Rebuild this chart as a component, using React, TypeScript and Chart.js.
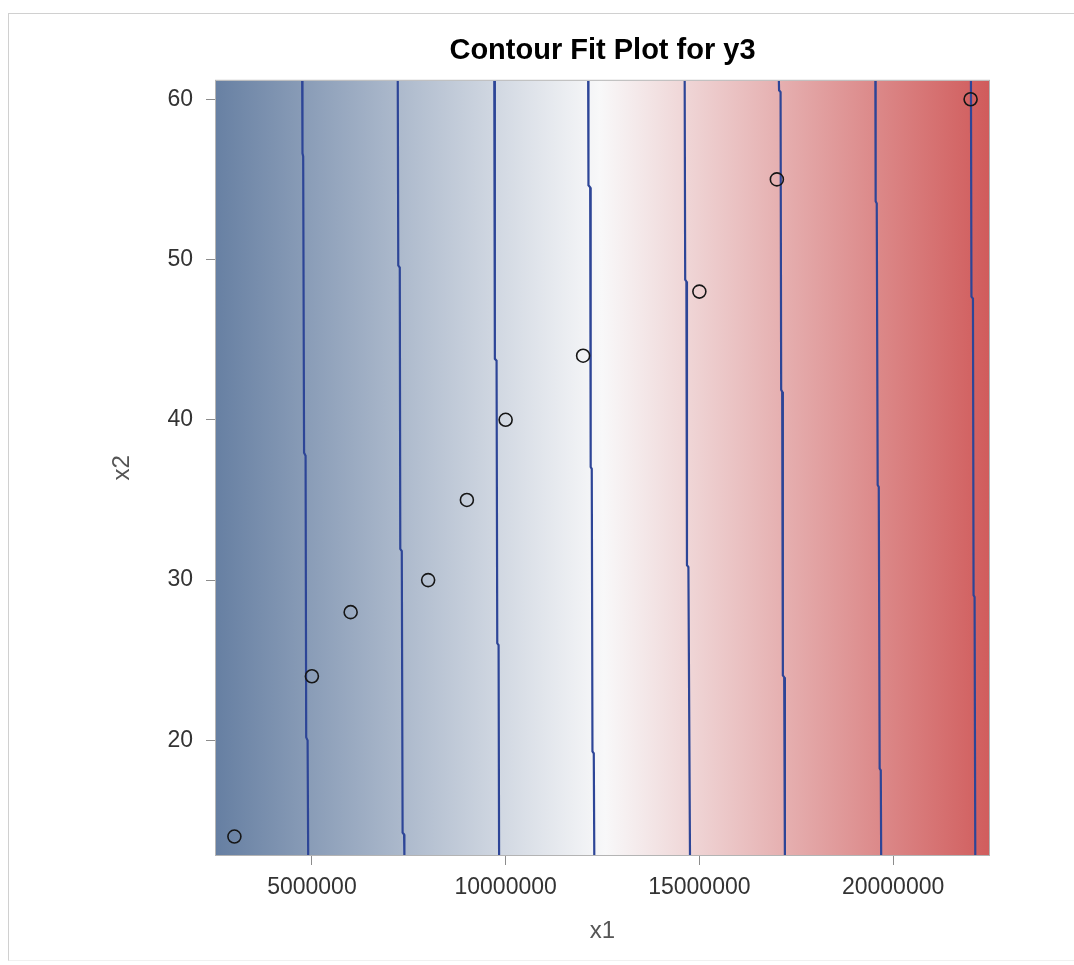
import React, { useEffect, useRef } from 'react';
import { Chart, registerables } from 'chart.js';

Chart.register(...registerables);

// Axis ranges and tick positions
const x1Range = [2525000, 22475000];
const x2Range = [12.85, 61.15];
const xTickValues = [5000000, 10000000, 15000000, 20000000];
const yTickValues = [20, 30, 40, 50, 60];

// Observed design points
const obsX1 = [3000000, 5000000, 6000000, 8000000, 9000000, 10000000, 12000000, 15000000, 17000000, 22000000];
const obsX2 = [14, 24, 28, 30, 35, 40, 44, 48, 55, 60];

// Fitted contour lines (x1, x2 pairs from top to bottom)
const level1X1 = [4749000, 4757000, 4775000, 4798000, 4837000, 4853000, 4889000, 4904000];
const level1X2 = [61.15, 56.63, 56.44, 37.94, 37.75, 20.19, 20.0, 12.85];
const level2X1 = [7216000, 7229000, 7268000, 7281000, 7320000, 7341000, 7379000, 7387000];
const level2X2 = [61.15, 49.63, 49.5, 31.94, 31.81, 14.25, 14.13, 12.85];
const level3X1 = [9707000, 9722000, 9766000, 9784000, 9818000, 9831000];
const level3X2 = [61.15, 43.81, 43.69, 26.06, 25.94, 12.85];
const level4X1 = [12130000, 12138000, 12182000, 12195000, 12223000, 12241000, 12275000, 12288000];
const level4X2 = [61.15, 54.63, 54.5, 37.06, 36.94, 19.31, 19.19, 12.85];
const level5X1 = [14621000, 14634000, 14665000, 14680000, 14717000, 14758000];
const level5X2 = [61.15, 48.75, 48.63, 30.94, 30.81, 12.85];
const level6X1 = [17052000, 17057000, 17096000, 17111000, 17137000, 17155000, 17189000, 17207000];
const level6X2 = [61.15, 60.56, 60.44, 41.88, 41.75, 24.06, 23.94, 12.85];
const level7X1 = [19542000, 19550000, 19578000, 19602000, 19630000, 19653000, 19682000, 19692000];
const level7X2 = [61.15, 53.63, 53.5, 35.94, 35.81, 18.25, 18.13, 12.85];
const level8X1 = [22009000, 22022000, 22061000, 22077000, 22103000, 22121000];
const level8X2 = [61.15, 47.69, 47.56, 29.06, 28.94, 12.85];

// Three-colour ramp for the response surface (low, neutral, high)
const rampColors = ['#667FA2', '#F8F8F9', '#D05B5B'];

const contourLevels = [
  { x1: level1X1, x2: level1X2 },
  { x1: level2X1, x2: level2X2 },
  { x1: level3X1, x2: level3X2 },
  { x1: level4X1, x2: level4X2 },
  { x1: level5X1, x2: level5X2 },
  { x1: level6X1, x2: level6X2 },
  { x1: level7X1, x2: level7X2 },
  { x1: level8X1, x2: level8X2 },
];

const FONT = '"Liberation Sans", Arial, Helvetica, sans-serif';

// Paints the continuous surface fill across the plot area, graded
// perpendicular to the contour lines.
const surfaceFill = {
  id: 'surfaceFill',
  beforeDatasetsDraw(chart: any) {
    const { ctx, chartArea: a, scales } = chart;
    const xs = scales.x;
    const ys = scales.y;
    let sx = 0;
    let sy = 0;
    contourLevels.forEach((l) => {
      const n = l.x1.length - 1;
      sx += xs.getPixelForValue(l.x1[n]) - xs.getPixelForValue(l.x1[0]);
      sy += ys.getPixelForValue(l.x2[n]) - ys.getPixelForValue(l.x2[0]);
    });
    const len = Math.hypot(sx, sy) || 1;
    const nx = sy / len;
    const ny = -sx / len;
    const cx = (a.left + a.right) / 2;
    const cy = (a.top + a.bottom) / 2;
    const corners = [
      [a.left, a.top],
      [a.right, a.top],
      [a.left, a.bottom],
      [a.right, a.bottom],
    ];
    const proj = corners.map(([px, py]) => (px - cx) * nx + (py - cy) * ny);
    const lo = Math.min(...proj);
    const hi = Math.max(...proj);
    const g = ctx.createLinearGradient(cx + nx * lo, cy + ny * lo, cx + nx * hi, cy + ny * hi);
    g.addColorStop(0, rampColors[0]);
    g.addColorStop(0.5, rampColors[1]);
    g.addColorStop(1, rampColors[2]);
    ctx.save();
    ctx.fillStyle = g;
    ctx.fillRect(a.left, a.top, a.right - a.left, a.bottom - a.top);
    ctx.restore();
  },
  afterDatasetsDraw(chart: any) {
    const { ctx, chartArea: a } = chart;
    ctx.save();
    ctx.strokeStyle = '#b4b4b4';
    ctx.lineWidth = 1;
    ctx.strokeRect(a.left - 0.5, a.top - 0.5, a.right - a.left + 1, a.bottom - a.top + 1);
    ctx.restore();
  },
};

export default function App() {
  const canvasRef = useRef<HTMLCanvasElement | null>(null);

  useEffect(() => {
    if (!canvasRef.current) return;

    const lineSets = contourLevels.map((l) => ({
      type: 'scatter' as const,
      data: l.x1.map((v, i) => ({ x: v, y: l.x2[i] })),
      showLine: true,
      borderColor: '#2d4597',
      borderWidth: 2.2,
      pointRadius: 0,
      pointHoverRadius: 0,
      fill: false,
      tension: 0,
      order: 1,
    }));

    const chart = new Chart(canvasRef.current, {
      type: 'scatter',
      data: {
        datasets: [
          {
            data: obsX1.map((v, i) => ({ x: v, y: obsX2[i] })),
            pointStyle: 'circle',
            pointRadius: 6.5,
            pointBorderWidth: 1.6,
            borderColor: '#161616',
            backgroundColor: 'rgba(0,0,0,0)',
            showLine: false,
            order: 0,
          },
          ...lineSets,
        ] as any,
      },
      options: {
        animation: false,
        responsive: false,
        devicePixelRatio: 1,
        layout: { padding: { left: 100, right: 85, top: 19, bottom: 15 } },
        plugins: {
          legend: { display: false },
          tooltip: { enabled: false },
          title: {
            display: true,
            text: 'Contour Fit Plot for y3',
            fullSize: false,
            color: '#000',
            font: { family: FONT, size: 29, weight: 'bold' },
            padding: { top: 15, bottom: 12 },
          },
        },
        scales: {
          x: {
            type: 'linear',
            min: x1Range[0],
            max: x1Range[1],
            afterBuildTicks: (axis: any) => {
              axis.ticks = xTickValues.map((v) => ({ value: v }));
            },
            afterFit: (axis: any) => {
              axis.height = 95;
            },
            ticks: {
              color: '#333',
              font: { family: FONT, size: 23 },
              padding: 9,
              maxRotation: 0,
              autoSkip: false,
              callback: (v: any) => String(v),
            },
            grid: { drawOnChartArea: false, drawTicks: true, tickLength: 10, color: '#8c8c8c' },
            border: { display: false },
            title: {
              display: true,
              text: 'x1',
              color: '#555',
              font: { family: FONT, size: 24 },
              padding: { top: 0, bottom: 4 },
            },
          },
          y: {
            type: 'linear',
            min: x2Range[0],
            max: x2Range[1],
            afterBuildTicks: (axis: any) => {
              axis.ticks = yTickValues.map((v) => ({ value: v }));
            },
            afterFit: (axis: any) => {
              axis.width = 116;
            },
            ticks: {
              color: '#333',
              font: { family: FONT, size: 23 },
              padding: 13,
              autoSkip: false,
              callback: (v: any) => String(v),
            },
            grid: { drawOnChartArea: false, drawTicks: true, tickLength: 10, color: '#8c8c8c' },
            border: { display: false },
            title: {
              display: true,
              text: 'x2',
              color: '#555',
              font: { family: FONT, size: 24 },
              padding: { top: 8, bottom: 0 },
            },
          },
        },
      },
      plugins: [surfaceFill],
    });

    return () => chart.destroy();
  }, []);

  return (
    <>
      <div
        style={{
          position: 'absolute',
          left: 8,
          top: 13,
          width: 1066,
          height: 948,
          boxSizing: 'border-box',
          borderTop: '1px solid #d0d0d0',
          borderLeft: '1px solid #d0d0d0',
          borderBottom: '1px solid #f0f0f0',
        }}
      />
      <div style={{ position: 'absolute', left: 0, top: 0, width: 1074, height: 965 }}>
        <canvas ref={canvasRef} width={1074} height={965} style={{ display: 'block' }} />
      </div>
    </>
  );
}
